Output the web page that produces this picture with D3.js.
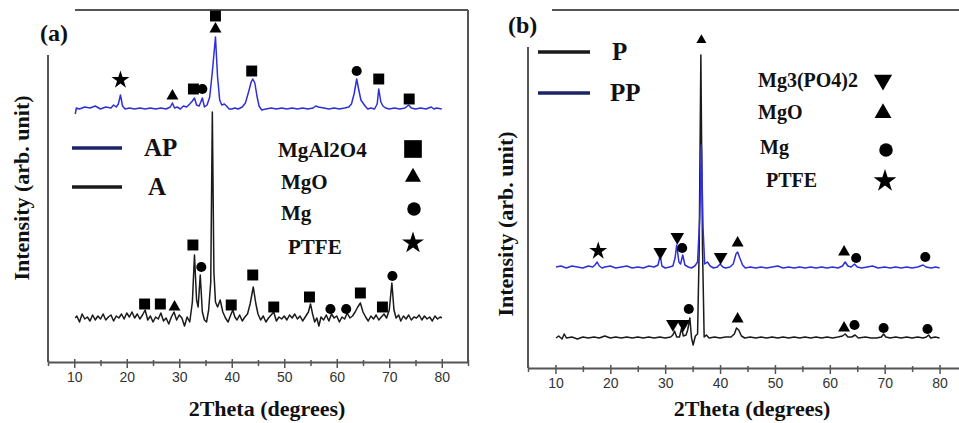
<!DOCTYPE html>
<html><head><meta charset="utf-8">
<script src="https://cdn.jsdelivr.net/npm/d3@7"></script>
<style>body{margin:0;background:#fff}</style>
</head><body>
<svg id="c" width="959" height="423"></svg>
<script>
// ---------- DATA ----------
const xTicksMajor = [10,20,30,40,50,60,70,80];
const xTicksMinor = [5,15,25,35,45,55,65,75,85];
const xTitle = "2Theta (degrees)";
const yTitle = "Intensity (arb. unit)";
const panelLabels = ["(a)", "(b)"];

// Panel (a): [2theta, intensity a.u.]
const seriesA = [[10.2,44],[10.5,46],[11,40],[11.5,48],[12,43],[12.5,45],[13,41],[13.5,47],[14,42],[14.5,46],[15,43],[15.5,48],[16,42],[16.5,45],[17,47],[17.5,41],[18,46],[18.5,44],[19,48],[19.5,43],[20,49],[20.5,45],[21,50],[21.5,44],[22,48],[22.5,43],[23,47],[23.5,52],[24,42],[24.5,46],[25,40],[25.5,45],[26,43],[26.5,49],[27,41],[27.5,44],[28,38],[28.5,45],[29,50],[29.5,42],[30,47],[30.5,44],[31,36],[31.5,45],[32,40],[32.5,60],[32.9,107],[33.3,62],[33.6,55],[34.0,87],[34.4,50],[34.8,42],[35.2,40],[35.6,52],[36.0,80],[36.3,250],[36.6,90],[36.9,60],[37.3,55],[37.8,62],[38.3,50],[38.8,44],[39.3,40],[39.8,47],[40.2,52],[40.6,45],[41,42],[41.5,47],[42,41],[42.5,45],[43,48],[43.5,58],[44.1,75],[44.6,58],[45,48],[45.5,42],[46,46],[46.5,40],[47,44],[47.5,47],[48,50],[48.5,41],[49,45],[49.5,43],[50,46],[50.5,42],[51,47],[51.5,44],[52,48],[52.5,43],[53,46],[53.5,41],[54,45],[54.6,50],[55,58],[55.4,48],[55.8,40],[56.2,44],[56.6,36],[57,45],[57.5,42],[58,47],[58.5,41],[59,48],[59.5,44],[60,46],[60.5,40],[61,45],[61.5,43],[62,49],[62.5,44],[63,46],[63.5,50],[64,55],[64.5,59],[65,50],[65.5,45],[66,41],[66.5,46],[67,43],[67.5,47],[68,42],[68.5,45],[69,48],[69.5,44],[70,52],[70.5,79],[70.9,52],[71.3,44],[71.8,47],[72.2,41],[72.7,46],[73.2,43],[73.7,47],[74.2,42],[74.7,45],[75.2,44],[75.7,47],[76.2,42],[76.7,46],[77.2,43],[77.7,45],[78.2,41],[78.7,46],[79.2,43],[79.7,45],[80,44]];
const seriesAP = [[10.2,248],[10.4,254],[11,253],[12,255],[13,254],[14,256],[15,253],[16,255],[17,254],[17.5,257],[18,255],[18.4,258],[18.8,267],[19.2,256],[19.7,253],[20.5,254],[21.5,253],[22.5,254],[23.5,253],[24.5,254],[25.5,253],[26.5,254],[27.5,253],[28.3,255],[28.7,259],[29.1,254],[29.6,255],[30.2,253],[30.8,256],[31.4,255],[32,258],[32.5,261],[32.9,264],[33.3,257],[33.8,256],[34.4,264],[34.8,255],[35.3,257],[35.8,265],[36.3,290],[36.9,325],[37.3,285],[37.7,262],[38.1,257],[38.6,258],[39.0,256],[39.5,253],[40,253],[40.6,254],[41.2,253],[42,255],[42.6,259],[43.2,270],[43.7,280],[44.0,283],[44.4,279],[44.8,266],[45.2,256],[45.7,252],[46.5,253],[47.5,254],[48.5,253],[49.5,254],[50.5,253],[51.5,254],[52.5,253],[53.5,254],[54.5,253],[55.5,254],[56,256],[56.5,255],[57.5,254],[58.5,253],[59.5,254],[60.5,253],[61.5,254],[62.3,255],[62.8,258],[63.3,268],[63.8,283],[64.2,272],[64.6,262],[65.0,259],[65.4,256],[65.9,253],[66.5,254],[67.2,253],[67.7,258],[68.0,273],[68.4,260],[68.8,256],[69.3,254],[70,253],[71,254],[72,253],[73,254],[73.7,257],[74.2,254],[75,253],[76,254],[77,253],[78,255],[78.5,253],[79,254],[80,253]];
// peak identification marks: [2theta, intensity, phase]
const marksAP = [[18.8,282,"PTFE"],[28.7,266,"MgO"],[32.7,273,"MgAl2O4"],[34.4,273,"Mg"],[36.9,346,"MgAl2O4"],[36.9,333,"MgO"],[43.8,291,"MgAl2O4"],[63.8,291,"Mg"],[68.0,283,"MgAl2O4"],[73.8,263,"MgAl2O4"]];
const marksA = [[23.4,58,"MgAl2O4"],[26.4,58,"MgAl2O4"],[29.1,55,"MgO"],[32.6,117,"MgAl2O4"],[34.2,95,"Mg"],[39.9,57,"MgAl2O4"],[44.0,87,"MgAl2O4"],[48.0,55,"MgAl2O4"],[54.8,65,"MgAl2O4"],[58.8,53,"Mg"],[61.8,53,"Mg"],[64.5,69,"MgAl2O4"],[68.7,55,"MgAl2O4"],[70.6,86,"Mg"]];
const legendSeriesA = ["AP","A"];
const legendPhasesA = ["MgAl2O4","MgO","Mg","PTFE"];

// Panel (b)
const seriesPP = [[10.1,101],[11,102],[12,100],[13,102],[14,101],[15,100],[16,102],[16.8,101],[17.2,103],[17.6,106],[18,102],[18.5,100],[19,101],[20,102],[21,100],[22,101],[23,102],[24,100],[25,101],[26,100],[27,102],[28,101],[28.7,103],[29.1,113],[29.4,102],[30,100],[30.8,101],[31.4,102],[31.8,110],[32.1,123],[32.5,106],[32.8,104],[33.2,113],[33.6,103],[34.2,101],[34.8,100],[35.4,102],[35.9,106],[36.3,150],[36.6,223],[36.9,140],[37.2,104],[37.7,106],[38.2,102],[38.8,100],[39.5,101],[40.0,104],[40.5,101],[41,100],[41.8,101],[42.4,104],[42.9,114],[43.2,116],[43.6,110],[44.1,103],[44.6,100],[45.5,101],[46.5,100],[47.5,101],[48.5,100],[49.5,101],[50.5,102],[51.5,100],[52.5,101],[53.5,100],[54.5,101],[55.5,100],[56.5,101],[57.5,100],[58.5,101],[59.5,100],[60.5,101],[61.5,100],[62.3,102],[62.8,106],[63.3,102],[63.9,101],[64.5,104],[65.0,101],[65.8,100],[66.8,101],[67.8,102],[68.8,100],[70,101],[71,100],[72,101],[73,100],[74,101],[75,100],[76,101],[77,103],[77.5,101],[78.5,100],[79.3,101],[80,100]];
const seriesP = [[10.1,30],[10.6,32],[11.2,29],[11.6,34],[12,30],[13,31],[14,29],[15,31],[16,30],[17,31],[18,30],[19,32],[20,30],[21,31],[22,30],[23,31],[24,30],[25,31],[26,30],[27,31],[28,30],[29,31],[30,30],[31,31],[31.4,33],[31.7,37],[32.1,31],[32.6,31],[33.0,40],[33.3,32],[33.8,33],[34.1,38],[34.5,50],[34.8,30],[35.1,23],[35.5,32],[35.9,34],[36.2,120],[36.5,313],[36.8,120],[37.1,31],[37.5,33],[38,30],[39,31],[40,30],[41,31],[42,31],[42.6,34],[43.0,40],[43.4,38],[43.9,32],[44.5,30],[45.5,31],[46.5,30],[47.5,31],[48.5,30],[49.5,31],[50.5,30],[51.5,31],[52.5,30],[53.5,31],[54.5,30],[55.5,31],[56.5,30],[57.5,31],[58.5,30],[59.5,31],[60.5,30],[61.5,31],[62.3,32],[62.8,34],[63.3,31],[64,31],[64.6,33],[65.2,30],[66.5,31],[67.5,30],[68.5,30],[69.4,31],[69.8,34],[70.2,31],[71,30],[72,31],[73,30],[74,31],[75,30],[76,31],[77,30],[77.6,31],[78,33],[78.4,30],[79.2,31],[80,30]];
const marksPP = [[17.8,117,"PTFE"],[29.1,116,"Mg3(PO4)2"],[32.2,131,"Mg3(PO4)2"],[33.1,120,"Mg"],[36.6,328,"MgO"],[40.1,111,"Mg3(PO4)2"],[43.2,125,"MgO"],[62.6,116,"MgO"],[64.8,110,"Mg"],[77.4,111,"Mg"]];
const marksP = [[31.4,44,"Mg3(PO4)2"],[33.3,44,"Mg3(PO4)2"],[34.3,59,"Mg"],[43.2,49,"MgO"],[62.6,40,"MgO"],[64.5,43,"Mg"],[69.8,40,"Mg"],[77.8,39,"Mg"]];
const legendSeriesB = ["P","PP"];
const legendPhasesB = ["Mg3(PO4)2","MgO","Mg","PTFE"];

// ---------- DRAW ----------
const svg = d3.select("#c");
const SERIF = "'Liberation Serif','Times New Roman',serif";
const SANS = "'Liberation Sans',Arial,sans-serif";
const AXC = "#555";
const BLUE = "#2f2fd6", NAVY = "#1b2466", BLACK = "#1a1a1a";

const symType = {"MgAl2O4":[d3.symbolSquare,0],"MgO":[d3.symbolTriangle,0],"Mg":[d3.symbolCircle,0],"PTFE":[d3.symbolStar,0],"Mg3(PO4)2":[d3.symbolTriangle,180]};
const symSize = {"MgAl2O4":120,"MgO":62,"Mg":80,"PTFE":100,"Mg3(PO4)2":80};
function mark(g, x, y, phase, scale){
  const [t, rot] = symType[phase];
  const s = (scale||1) * symSize[phase];
  g.append("path").attr("d", d3.symbol(t, s)())
    .attr("transform", `translate(${x},${y}) rotate(${rot})`).attr("fill", "#000");
}

function panel(cfg){
  const g = svg.append("g");
  const x = d3.scaleLinear().domain([5,85]).range(cfg.xr);
  const y = d3.scaleLinear().domain(cfg.yd).range([cfg.yb, 10]);
  cfg.frame.forEach(f => g.append("line").attr("x1",f[0]).attr("y1",f[1]).attr("x2",f[2]).attr("y2",f[3]).attr("stroke",AXC).attr("stroke-width",2));
  const ax = g.append("g").attr("transform",`translate(0,${cfg.yb})`)
    .call(d3.axisBottom(x).tickValues(xTicksMajor).tickSizeInner(6).tickSizeOuter(0).tickPadding(4).tickFormat(d3.format("d")));
  ax.select(".domain").attr("stroke",AXC).attr("stroke-width",2);
  ax.selectAll(".tick line").attr("y1",-3).attr("stroke",AXC).attr("stroke-width",1.5);
  ax.selectAll("text").attr("font-family",SANS).attr("font-size",14).attr("fill","#333");
  const mx = g.append("g").attr("transform",`translate(0,${cfg.yb})`)
    .call(d3.axisBottom(x).tickValues(xTicksMinor).tickSizeInner(4).tickSizeOuter(0).tickFormat(""));
  mx.select(".domain").remove();
  mx.selectAll(".tick line").attr("y1",-2).attr("stroke",AXC).attr("stroke-width",1.5);
  const line = d3.line().x(d=>x(d[0])).y(d=>y(d[1]));
  cfg.series.forEach(s => g.append("path").datum(s.data).attr("d",line).attr("fill","none")
    .attr("stroke",s.color).attr("stroke-width",s.w).attr("stroke-linejoin","round"));
  cfg.marks.forEach(m => mark(g, x(m[0]), y(m[1]), m[2], m[3]));
  g.append("text").attr("x",cfg.xtX).attr("y",416).attr("text-anchor","middle").attr("font-family",SERIF)
    .attr("font-weight","bold").attr("font-size",22).attr("fill","#111").text(xTitle);
  g.append("text").attr("transform",`translate(${cfg.ytX},${cfg.ytY}) rotate(-90)`).attr("text-anchor","middle")
    .attr("font-family",SERIF).attr("font-weight","bold").attr("font-size",22).attr("fill","#111").text(yTitle);
  g.append("text").attr("x",cfg.lab[0]).attr("y",cfg.lab[1]).attr("font-family",SERIF).attr("font-weight","bold")
    .attr("font-size",24).attr("fill","#111").text(cfg.label);
  cfg.legS.forEach(l => {
    g.append("line").attr("x1",l.x1).attr("x2",l.x2).attr("y1",l.y).attr("y2",l.y).attr("stroke",l.color).attr("stroke-width",3.5);
    g.append("text").attr("x",l.tx).attr("y",l.y+8).attr("font-family",SERIF).attr("font-weight","bold")
      .attr("font-size",l.fs).attr("fill","#111").text(l.name);
  });
  cfg.legP.forEach(l => {
    g.append("text").attr("x",l.tx).attr("y",l.ty).attr("font-family",SERIF).attr("font-weight","bold")
      .attr("font-size",l.fs).attr("fill","#111").text(l.name);
    mark(g, l.sx, l.sy, l.name, l.sc);
  });
}

panel({
  xr:[48,468], yd:[0,352], yb:362,
  frame:[[75,10,468,10],[468,10,468,362],[48,55,48,362]],
  series:[{data:seriesA,color:BLACK,w:1.5},{data:seriesAP,color:BLUE,w:1.5}],
  marks:[...marksAP, ...marksA],
  xtX:267, ytX:29, ytY:188, lab:[40,41], label:panelLabels[0],
  legS:[{name:legendSeriesA[0],x1:72,x2:122,y:148,tx:144,color:NAVY,fs:25},
        {name:legendSeriesA[1],x1:72,x2:122,y:187,tx:148,color:BLACK,fs:25}],
  legP:[{name:legendPhasesA[0],tx:278,ty:157,sx:413,sy:149,sc:2.6,fs:21},
        {name:legendPhasesA[1],tx:281,ty:189,sx:413,sy:177,sc:1.8,fs:21},
        {name:legendPhasesA[2],tx:281,ty:220,sx:414,sy:209,sc:1.8,fs:21},
        {name:legendPhasesA[3],tx:288,ty:254,sx:413,sy:243,sc:1.5,fs:21}]
});
panel({
  xr:[528,967], yd:[0,358], yb:368,
  frame:[[552,10,959,10],[528,47,528,368]],
  series:[{data:seriesP,color:BLACK,w:1.5},{data:seriesPP,color:BLUE,w:1.5}],
  marks:[...marksPP.map(m=>m[2]==="MgO"&&m[1]>300?[...m,0.7]:m), ...marksP],
  xtX:752, ytX:513, ytY:224, lab:[508,33], label:panelLabels[1],
  legS:[{name:legendSeriesB[0],x1:538,x2:590,y:52,tx:612,color:BLACK,fs:25},
        {name:legendSeriesB[1],x1:538,x2:590,y:93,tx:610,color:NAVY,fs:25}],
  legP:[{name:legendPhasesB[0],tx:758,ty:87,sx:883,sy:80,sc:1.8,fs:20},
        {name:legendPhasesB[1],tx:758,ty:119,sx:883,sy:113,sc:2.0,fs:20},
        {name:legendPhasesB[2],tx:760,ty:154,sx:886,sy:150,sc:1.8,fs:20},
        {name:legendPhasesB[3],tx:766,ty:187,sx:885,sy:181,sc:1.6,fs:20}]
});
</script>
</body></html>
